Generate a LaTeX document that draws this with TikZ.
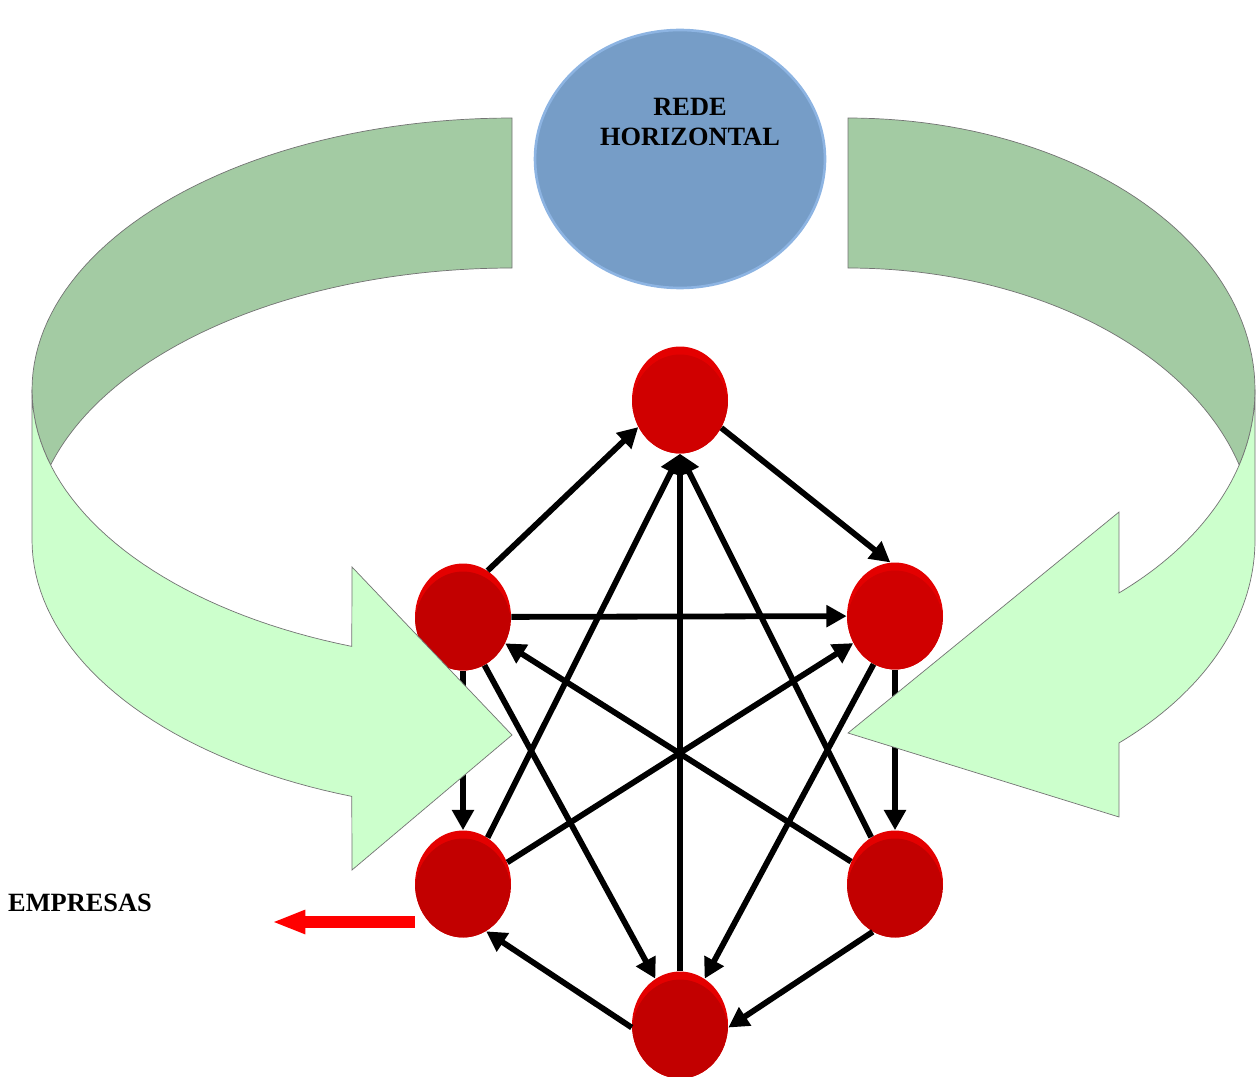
\documentclass[tikz,border=0pt]{standalone}
\usepackage{fontspec}
\setmainfont{Liberation Serif}
\usetikzlibrary{arrows.meta,shapes.geometric}

\definecolor{fundo}{RGB}{163,203,163}
\definecolor{frente}{RGB}{204,255,204}
\definecolor{azul}{RGB}{118,157,199}
\definecolor{azulborda}{RGB}{141,180,226}
\definecolor{vermelho}{RGB}{194,0,0}
\definecolor{vermelhovivo}{RGB}{208,0,0}
\definecolor{vermelhoclaro}{RGB}{228,0,0}

\begin{document}
\begin{tikzpicture}[
    x=0.02cm, y=-0.02cm,
    >={Triangle[length=11.5pt,width=12pt]},
    empresa/.style={ellipse, minimum width=1.92cm, minimum height=2.14cm, inner sep=0,
      fill=vermelhoclaro, path picture={\fill[#1] ([yshift=-0.16cm]path picture bounding box.center)
        ellipse [x radius=0.96cm, y radius=1.07cm];}},
    empresa/.default=vermelho,
    liga/.style={->, line width=3.3pt},
    atras/.style={fill=fundo, draw=black!55, line width=0.4pt},
    faixa/.style={fill=frente, draw=black!55, line width=0.4pt},
    rotulo/.style={font=\bfseries\fontsize{15}{17.5}\selectfont, align=center},
  ]
  \useasboundingbox (0,0) rectangle (1256,1077);

  % empresas
  \node[empresa=vermelhovivo] (n1) at (680,400) {};
  \node[empresa] (n2) at (463,617) {};
  \node[empresa=vermelhovivo] (n3) at (895,616) {};
  \node[empresa] (n4) at (463,884) {};
  \node[empresa] (n5) at (895,884) {};
  \node[empresa] (n6) at (680,1025) {};

  % ligacoes
  \draw[liga] (n2.62) -- (n1.213);
  \draw[liga] (n1.-34) -- (n3.95);
  \draw[liga] (n2) -- (n3);
  \draw[liga] (n2) -- (n4);
  \draw[liga] (n3) -- (n5);
  \draw[liga] (n4.62) -- (n1.south);
  \draw[liga] (n6) -- (n1);
  \draw[liga] (n5.117) -- (n1.south);
  \draw[liga] (n2.-66) -- (n6.118);
  \draw[liga] (n3.-114) -- (n6.62);
  \draw[liga] (n4.26) -- (n3.-147);
  \draw[liga] (n5.153) -- (n2.-32);
  \draw[liga] (n6.183) -- (n4.-64);
  \draw[liga] (n5.-115) -- (n6.-3);

  % saida
  \coordinate (saida) at (272,922);
  \draw[red, line width=6.3pt, -{Triangle[length=19pt,width=12.5pt]}] (n4.west |- saida) -- (saida);
  \node[rotulo] (empresas) at (80,903) {EMPRESAS};

  % faixa esquerda
  \filldraw[atras] plot[domain=90:196, samples=60] ({512+480*cos(\x)},{390-272*sin(\x)})
    -- plot[domain=164:90, samples=60] ({512+480*cos(\x)},{540-272*sin(\x)}) -- cycle;
  \filldraw[faixa] (32,390) -- (32,540)
    -- plot[domain=180:250.5, samples=40] ({512+480*cos(\x)},{540-272*sin(\x)})
    -- (352,870) -- (512,735) -- (352,567)
    -- plot[domain=250.5:180, samples=40] ({512+480*cos(\x)},{390-272*sin(\x)}) -- cycle;

  % faixa direita
  \filldraw[atras] plot[domain=90:-16, samples=60] ({848+407*cos(\x)},{390-272*sin(\x)})
    -- plot[domain=16:90, samples=60] ({848+407*cos(\x)},{540-272*sin(\x)}) -- cycle;
  \filldraw[faixa] (1255,390) -- (1255,540)
    -- plot[domain=0:-48.25, samples=40] ({848+407*cos(\x)},{540-272*sin(\x)})
    -- (1119,817) -- (848,733) -- (1119,512)
    -- plot[domain=-48.25:0, samples=40] ({848+407*cos(\x)},{390-272*sin(\x)}) -- cycle;

  % rede
  \node[ellipse, fill=azul, draw=azulborda, line width=1.5pt, minimum width=5.8cm,
    minimum height=5.16cm] (rede) at (680,159) {};
  \node[rotulo] (titulo) at (690,122) {REDE\\HORIZONTAL};

\end{tikzpicture}
\end{document}
